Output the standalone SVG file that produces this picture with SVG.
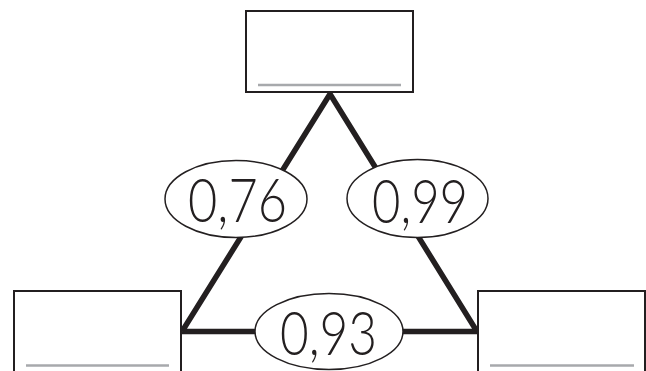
<svg xmlns="http://www.w3.org/2000/svg" width="646" height="371" viewBox="0 0 646 371">
<style>
.box{fill:#fff;stroke:#231f20;stroke-width:2}
.blank{stroke:#a7a9ac;stroke-width:2.5}
.edge{stroke:#231f20;stroke-width:5.5;fill:none;stroke-linejoin:miter}
.oval{fill:#fff;stroke:#231f20;stroke-width:1.5}
.lbl{font-family:Lato,"Noto Sans",sans-serif;font-weight:300;font-size:61px;fill:#231f20;text-anchor:middle}
</style>
<rect width="646" height="371" fill="#fff"/>
<g id="connectors">
<polyline class="edge" points="182,331.5 330,94 477,331.5 182,331.5"/>
</g>
<g id="node-top">
<rect class="box" x="246" y="11" width="167" height="81"/>
<line class="blank" x1="258" y1="85" x2="401" y2="85"/>
</g>
<g id="node-left">
<rect class="box" x="14" y="291" width="167" height="90"/>
<line class="blank" x1="26" y1="365.5" x2="169" y2="365.5"/>
</g>
<g id="node-right">
<rect class="box" x="478" y="291" width="167" height="90"/>
<line class="blank" x1="490" y1="365.5" x2="634" y2="365.5"/>
</g>
<g id="label-076">
<ellipse class="oval" cx="236" cy="199" rx="71" ry="38.5"/>
<text class="lbl" x="237.5" y="222" textLength="99" lengthAdjust="spacingAndGlyphs">0,76</text>
</g>
<g id="label-099">
<ellipse class="oval" cx="417.5" cy="198.5" rx="70.5" ry="39"/>
<text class="lbl" x="420" y="223" textLength="96" lengthAdjust="spacingAndGlyphs">0,99</text>
</g>
<g id="label-093">
<ellipse class="oval" cx="329" cy="331.5" rx="74" ry="38"/>
<text class="lbl" x="328.5" y="355" textLength="97" lengthAdjust="spacingAndGlyphs">0,93</text>
</g>
</svg>
